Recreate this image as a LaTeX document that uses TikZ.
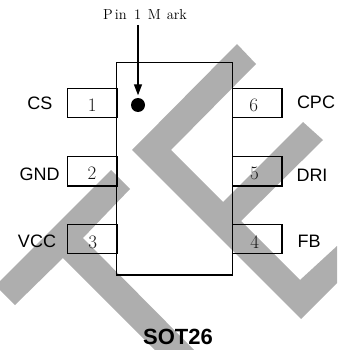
\documentclass[tikz,border=0pt]{standalone}
\usepackage{fontspec}
\setsansfont{Liberation Sans}
\usetikzlibrary{arrows.meta}
\definecolor{wm}{HTML}{AEAEAE}
\definecolor{dig}{HTML}{181818}
\tikzset{
  x=1pt,y=-1pt,
  body/.style={draw=black,line width=1.4pt,anchor=north west,inner sep=0pt,outer sep=0pt},
  pinbox/.style={draw=black,line width=1.4pt,minimum width=49.5pt,minimum height=29.3pt,inner sep=0pt,outer sep=0pt},
  digit/.style={font=\fontsize{19}{19}\selectfont,text=dig,inner sep=0pt},
  pinlabel/.style={font=\sffamily\fontsize{18}{18}\selectfont,inner sep=0pt},
}
\begin{document}
\begin{tikzpicture}
\useasboundingbox (0,0) rectangle (337,350);
\begin{scope}
\clip (0,0) rectangle (337,350);
\fill[wm] (237,44) -- (132,150) -- (301,319) -- (337,283) -- (337,246) -- (300,280) -- (241,221) -- (323,140) -- (303,122) -- (223,202) -- (171,150) -- (256,64) -- cycle;
\fill[wm] (111,170) -- (0,281) -- (0,290) -- (15,305) -- (63,258) -- (155,350) -- (194,350) -- (83,238) -- (130,189) -- cycle;
\end{scope}
\node[body,minimum width=115.8pt,minimum height=212.5pt] (chip) at (116.7,62.5) {};
\node[pinbox] (p1) at (92.3,103) {};
\node[pinbox] (p2) at (92.3,171.2) {};
\node[pinbox] (p3) at (92.3,239) {};
\node[pinbox] (p6) at (257.2,103) {};
\node[pinbox] (p5) at (257.2,171.2) {};
\node[pinbox] (p4) at (257.2,239) {};
\node[digit] (d1) at (92.3,105) {1};
\node[digit] (d2) at (92,173) {2};
\node[digit] (d3) at (92.7,242) {3};
\node[digit] (d6) at (253.7,105) {6};
\node[digit] (d5) at (254.5,173) {5};
\node[digit] (d4) at (254.7,242) {4};
\node[pinlabel] (cs) at (40,103) {CS};
\node[pinlabel] (gnd) at (39.5,174) {GND};
\node[pinlabel] (vcc) at (37,241) {VCC};
\node[pinlabel] (cpc) at (316,102) {CPC};
\node[pinlabel] (dri) at (312,175) {DRI};
\node[pinlabel] (fb) at (309,241) {FB};
\node[font=\sffamily\bfseries\fontsize{22}{22}\selectfont,inner sep=0pt] (title) at (178,337) {SOT26};
\node[font=\fontsize{14.5}{14.5}\selectfont,inner sep=0pt,anchor=base west] (mark) at (103,20) {P\hspace{2pt}in\hspace{7.5pt}1\hspace{6.5pt}M\hspace{6pt}ark};
\node[circle,fill=black,minimum size=14pt,inner sep=0pt] (dot) at (138,105) {};
\coordinate (arrowstart) at (138,25);
\draw[line width=1.4pt,-{Triangle[length=11pt,width=8pt]},shorten >=2.5pt] (arrowstart) -- (dot.north);
\end{tikzpicture}
\end{document}
